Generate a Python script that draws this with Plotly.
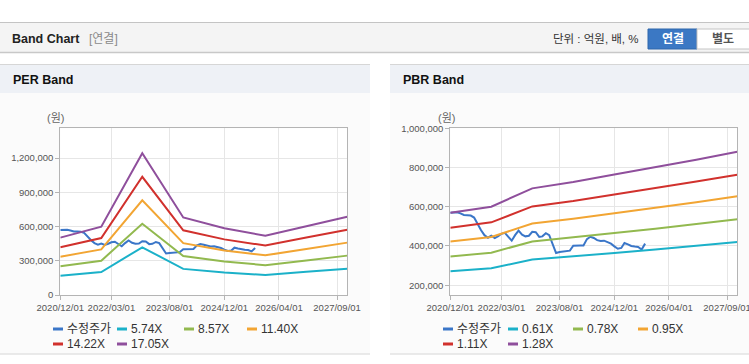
import plotly.graph_objects as go
import pandas as pd

W, H = 749, 364

# ---------------- data ----------------
price_dates = pd.date_range("2020-12-01", "2025-09-01", freq="MS")
price = [569000, 570000, 572000, 566000, 558000, 557000, 555000, 545000, 510000, 480000,
         455000, 442000, 452000, 440000, 450000, 462000, 467000, 447000, 427000, 455000,
         478000, 458000, 449000, 452000, 472000, 470000, 446000, 449000, 465000, 455000,
         410000, 364000, 369000, 371000, 373000, 376000, 401000, 403000, 403000, 403000,
         435000, 447000, 441000, 430000, 425000, 427000, 420000, 412000, 398000, 386000,
         390000, 415000, 408000, 400000, 397000, 395000, 382000, 412000]

band_dates = ["2020-12-01", "2021-12-01", "2022-12-01", "2023-12-01",
              "2024-12-01", "2025-12-01", "2026-12-01", "2027-12-01"]

per_names = ["5.74X", "8.57X", "11.40X", "14.22X", "17.05X"]
per_574 = [169300, 201500, 418400, 229000, 196900, 175100, 203200, 231300]
per_857 = [252800, 300800, 624800, 341900, 294000, 261400, 303400, 345400]
per_1140 = [336300, 400100, 831100, 454900, 391000, 347700, 403600, 459400]
per_1422 = [419500, 499100, 1036600, 567400, 487700, 433700, 503400, 573100]
per_1705 = [503000, 598500, 1242900, 680300, 584800, 520000, 603600, 687100]

pbr_names = ["0.61X", "0.78X", "0.95X", "1.11X", "1.28X"]
pbr_061 = [271100, 286100, 330600, 345900, 364200, 381900, 400200, 419700]
pbr_078 = [346700, 365800, 422800, 442300, 465700, 488300, 511700, 536600]
pbr_095 = [422300, 445600, 514900, 538700, 567200, 594700, 623200, 653600]
pbr_111 = [493400, 520600, 601600, 629400, 662700, 694900, 728200, 763700]
pbr_128 = [569000, 600300, 693800, 725800, 764200, 801300, 839700, 880600]

x_tick_vals = ["2020-12-01", "2022-03-01", "2023-08-01", "2024-12-01", "2026-04-01", "2027-09-01"]
x_tick_text = ["2020/12/01", "2022/03/01", "2023/08/01", "2024/12/01", "2026/04/01", "2027/09/01"]
per_y_ticks = [0, 300000, 600000, 900000, 1200000]
pbr_y_ticks = [200000, 400000, 600000, 800000, 1000000]

price_name = "수정주가"
colors = ["#3a76c8", "#1bb1c9", "#92b94f", "#f2a533", "#d1312d", "#8f4f9c"]

# ---------------- helpers ----------------
def px(v):
    return v / W

def py(v):
    return 1 - v / H

FONT = "Liberation Sans, Noto Sans CJK KR, sans-serif"
TICKFONT = "Liberation Sans, sans-serif"

fig = go.Figure()

per_series = [per_574, per_857, per_1140, per_1422, per_1705]
pbr_series = [pbr_061, pbr_078, pbr_095, pbr_111, pbr_128]

fig.add_trace(go.Scatter(x=price_dates, y=price, mode="lines", name=price_name,
                         line=dict(color=colors[0], width=2), xaxis="x", yaxis="y",
                         showlegend=False, hoverinfo="skip"))
for i, s in enumerate(per_series):
    fig.add_trace(go.Scatter(x=band_dates, y=s, mode="lines", name=per_names[i],
                             line=dict(color=colors[i + 1], width=2), xaxis="x", yaxis="y",
                             showlegend=False, hoverinfo="skip"))
fig.add_trace(go.Scatter(x=price_dates, y=price, mode="lines", name=price_name,
                         line=dict(color=colors[0], width=2), xaxis="x2", yaxis="y2",
                         showlegend=False, hoverinfo="skip"))
for i, s in enumerate(pbr_series):
    fig.add_trace(go.Scatter(x=band_dates, y=s, mode="lines", name=pbr_names[i],
                             line=dict(color=colors[i + 1], width=2), xaxis="x2", yaxis="y2",
                             showlegend=False, hoverinfo="skip"))

plot_top, plot_bot = 128.3, 295.0
per_l, per_r = 60.3, 347.3
pbr_l, pbr_r = 450.3, 737.3

axis_common = dict(showgrid=True, gridcolor="#e6e6e6", gridwidth=1,
                   showline=True, linecolor="#b4b4b4", linewidth=1, mirror=True,
                   ticks="outside", ticklen=4, tickcolor="#b4b4b4",
                   tickfont=dict(family=TICKFONT, size=9.5, color="#555555"),
                   zeroline=False, fixedrange=True, automargin=False, tickangle=0,
                   ticklabeloverflow="allow")

fig.update_layout(
    xaxis=dict(type="date", range=["2020-12-01", "2027-12-01"], tickvals=x_tick_vals,
               ticktext=x_tick_text, domain=[px(per_l), px(per_r)], anchor="y", **axis_common),
    yaxis=dict(range=[0, 1462000], tickvals=per_y_ticks, tickformat=",d",
               domain=[py(plot_bot), py(plot_top)], anchor="x", **axis_common),
    xaxis2=dict(type="date", range=["2020-12-01", "2027-12-01"], tickvals=x_tick_vals,
                ticktext=x_tick_text, domain=[px(pbr_l), px(pbr_r)], anchor="y2", **axis_common),
    yaxis2=dict(range=[150000, 1000000], tickvals=pbr_y_ticks, tickformat=",d",
                domain=[py(plot_bot), py(plot_top)], anchor="x2", **axis_common),
)

shapes = []
def rect(x0, y0, x1, y1, fill, line=None, lw=0):
    shapes.append(dict(type="rect", xref="paper", yref="paper", x0=px(x0), x1=px(x1),
                       y0=py(y1), y1=py(y0), fillcolor=fill, layer="below",
                       line=dict(color=line or fill, width=lw)))

def hline(x0, x1, y, color, w=1, layer="below"):
    shapes.append(dict(type="line", xref="paper", yref="paper", x0=px(x0), x1=px(x1),
                       y0=py(y), y1=py(y), layer=layer, line=dict(color=color, width=w)))

# header bar
rect(0, 22, 749, 52, "#f4f4f4")
hline(0, 749, 22.5, "#c4c4c4")
hline(0, 749, 52.5, "#c8c8c8", 1.5)

# panels
for (x0, x1) in [(0, 370), (390, 760)]:
    rect(x0, 64, x1, 354, "#fbfbfb")
    rect(x0, 64, x1, 93, "#eef1f6")
    hline(x0, x1, 64.5, "#d6d6d6")
    hline(x0, x1, 354, "#d6d6d6")
rect(per_l, plot_top, per_r, plot_bot, "#ffffff")
rect(pbr_l, plot_top, pbr_r, plot_bot, "#ffffff")

# buttons
shapes.append(dict(type="rect", xref="paper", yref="paper", x0=px(648), x1=px(697),
                   y0=py(49), y1=py(29), fillcolor="#3b78c4", layer="below",
                   line=dict(color="#2e66ab", width=1)))
shapes.append(dict(type="rect", xref="paper", yref="paper", x0=px(697), x1=px(752),
                   y0=py(49), y1=py(29), fillcolor="#ffffff", layer="below",
                   line=dict(color="#c4c4c4", width=1)))

annotations = []
def text(x, y, s, size=11, color="#333333", bold=False, anchor="left"):
    annotations.append(dict(xref="paper", yref="paper", x=px(x), y=py(y), text=(f"<b>{s}</b>" if bold else s),
                            showarrow=False, xanchor=anchor, yanchor="middle",
                            font=dict(family=FONT, size=size, color=color)))

text(10, 39, "Band Chart", 12.5, "#222222", bold=True)
text(87, 39, "[연결]", 12, "#8a8a8a")
text(641, 39, "단위 : 억원, 배, %", 11.5, "#333333", anchor="right")
text(672.5, 39, "연결", 12, "#ffffff", bold=True, anchor="center")
text(723, 39, "별도", 12, "#555555", bold=True, anchor="center")

text(11, 80, "PER Band", 12.5, "#111111", bold=True)
text(401, 80, "PBR Band", 12.5, "#111111", bold=True)
text(56, 118, "(원)", 11, "#666666", anchor="center")
text(446, 118, "(원)", 11, "#666666", anchor="center")

per_leg_x = [53, 117, 184, 247, 53, 117]
pbr_leg_x = [443, 508, 573, 638, 443, 508]
leg_y = [329, 329, 329, 329, 344, 344]
per_leg_names = [price_name] + per_names
pbr_leg_names = [price_name] + pbr_names
for names, xs in [(per_leg_names, per_leg_x), (pbr_leg_names, pbr_leg_x)]:
    for k, nm in enumerate(names):
        hline(xs[k], xs[k] + 10, leg_y[k], colors[k], 3, layer="above")
        text(xs[k] + 12, leg_y[k], nm, 12, "#333333")

fig.update_layout(
    width=W, height=H, margin=dict(l=0, r=0, t=0, b=0, pad=0, autoexpand=False),
    paper_bgcolor="#ffffff", plot_bgcolor="#ffffff",
    shapes=shapes, annotations=annotations, showlegend=False,
    font=dict(family=FONT),
)

fig.write_html("out.html", config={"displayModeBar": False},
               post_script="document.body.style.margin='0';document.body.style.overflow='hidden';")
